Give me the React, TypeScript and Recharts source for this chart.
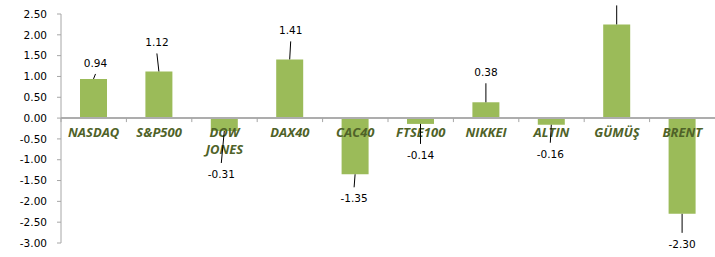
import React from "react";
import { BarChart, Bar, XAxis, YAxis, ReferenceLine, LabelList } from "recharts";

const categories = [
  "NASDAQ",
  "S&P500",
  "DOW JONES",
  "DAX40",
  "CAC40",
  "FTSE100",
  "NIKKEI",
  "ALTIN",
  "GÜMÜŞ",
  "BRENT",
];
const changes = [0.94, 1.12, -0.31, 1.41, -1.35, -0.14, 0.38, -0.16, 2.25, -2.3];
const yTicks = [2.5, 2, 1.5, 1, 0.5, 0, -0.5, -1, -1.5, -2, -2.5, -3];

// leader-line label placement (distance from bar end, horizontal shift)
const labelDist = [16, 29, 43, 29, 24, 31, 30, 29, 30, 30];
const labelDx = [2, -2, -3, 1, -1, 0, 0, -1, 0, 0];

const W = 715;
const H = 257;
const TOP = 14;
const BOTTOM = 14;
const LEFT = 61;
const PLOT_H = H - TOP - BOTTOM;
const ZERO_Y = TOP + (PLOT_H * 2.5) / 5.5;
const BAND = (W - LEFT) / categories.length;

const data = categories.map((name, i) => ({ name, value: changes[i] }));

const numFont = "'DejaVu Sans', sans-serif";
const catFont = "'Open Sans', sans-serif";

function ValueLabel(props: any) {
  const { x, y, width, height, value, index } = props;
  const cx = Number(x) + Number(width) / 2;
  const y1 = Number(y);
  const y2 = Number(y) + Number(height);
  const pos = Number(value) >= 0;
  const end = pos ? Math.min(y1, y2) : Math.max(y1, y2);
  const d = labelDist[index];
  const tx = cx + labelDx[index];
  const ty = pos ? end - d : end + d;
  const lineEnd = pos ? ty + 11 : ty - 11;
  return (
    <g>
      <line x1={cx} y1={end} x2={tx} y2={lineEnd} stroke="#000" strokeWidth={1} />
      <text
        x={tx}
        y={ty}
        textAnchor="middle"
        dominantBaseline="central"
        fontFamily={numFont}
        fontSize={10.5}
        fill="#000"
      >
        {Number(value).toFixed(2)}
      </text>
    </g>
  );
}

function CategoryTick(props: any) {
  const { x, payload } = props;
  const cx = Number(x);
  const words = String(payload.value).split(" ");
  return (
    <g>
      <line
        x1={cx - BAND / 2}
        y1={ZERO_Y}
        x2={cx - BAND / 2}
        y2={ZERO_Y + 4}
        stroke="#A6A6A6"
      />
      <text
        x={cx}
        y={ZERO_Y + 19}
        textAnchor="middle"
        fill="#4F6228"
        fontWeight="bold"
        fontStyle="italic"
        fontFamily={catFont}
        fontSize={13}
      >
        {words.map((w, i) => (
          <tspan key={i} x={cx} dy={i === 0 ? 0 : 17}>
            {w}
          </tspan>
        ))}
      </text>
    </g>
  );
}

export default function App() {
  return (
    <div style={{ position: "absolute", left: 0, top: 0, background: "#fff" }}>
      <BarChart
        width={W}
        height={H}
        data={data}
        margin={{ top: TOP, right: 0, bottom: 0, left: 0 }}
        barSize={27}
      >
        <YAxis
          width={LEFT}
          domain={[-3, 2.5]}
          ticks={yTicks}
          interval={0}
          tickFormatter={(v) => Number(v).toFixed(2)}
          axisLine={{ stroke: "#A6A6A6" }}
          tickLine={{ stroke: "#A6A6A6" }}
          tickSize={4}
          tickMargin={10}
          tick={{ fill: "#000", fontSize: 10.5, fontFamily: numFont }}
        />
        <XAxis
          dataKey="name"
          height={BOTTOM}
          interval={0}
          axisLine={false}
          tickLine={false}
          tick={(p: any) => <CategoryTick {...p} />}
        />
        <Bar dataKey="value" fill="#9BBB59" isAnimationActive={false}>
          <LabelList dataKey="value" content={<ValueLabel />} />
        </Bar>
        <ReferenceLine y={0} stroke="#ADADAD" strokeWidth={2} />
      </BarChart>
    </div>
  );
}
